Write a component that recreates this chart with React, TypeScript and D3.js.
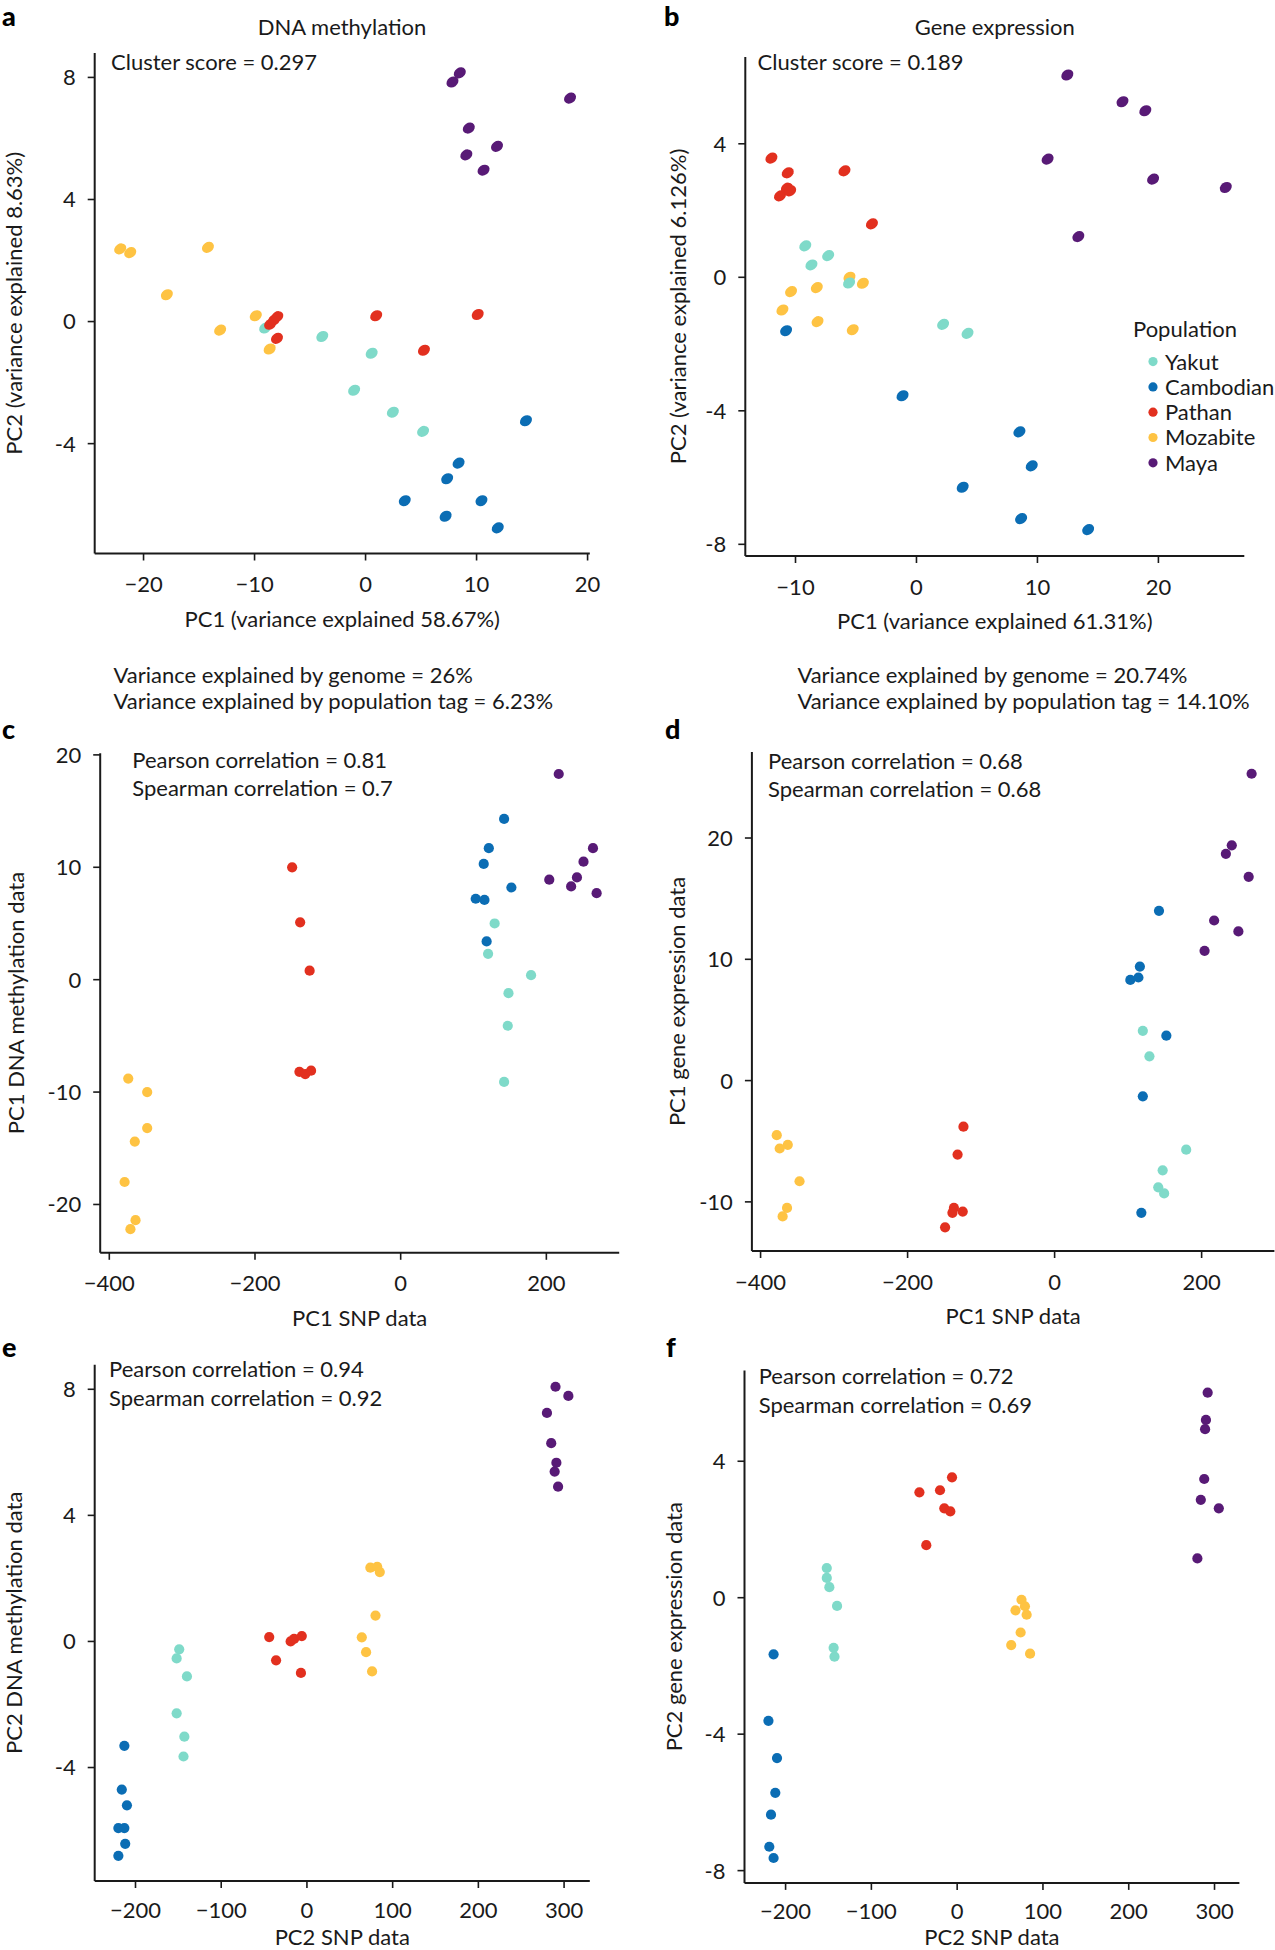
import React from "react";
import * as d3 from "d3";

const POPULATIONS = ["Yakut", "Cambodian", "Pathan", "Mozabite", "Maya"];
const POP_COLORS = ["#7fdac9", "#0b6db4", "#e2301f", "#fec343", "#581a76"];

type Pt = [string, number, number];

// Panel a: DNA methylation PCA
const pointsA: Pt[] = [
  ["Maya", 7.83, 7.85], ["Maya", 8.49, 8.15], ["Maya", 18.42, 7.32], ["Maya", 9.3, 6.34],
  ["Maya", 11.84, 5.74], ["Maya", 9.08, 5.46], ["Maya", 10.63, 4.96],
  ["Mozabite", -22.1, 2.38], ["Mozabite", -21.2, 2.26], ["Mozabite", -14.2, 2.43], ["Mozabite", -17.9, 0.88],
  ["Mozabite", -13.1, -0.28], ["Mozabite", -9.89, 0.19], ["Mozabite", -8.64, -0.9],
  ["Yakut", -9.04, -0.21], ["Yakut", -3.9, -0.49], ["Yakut", 0.55, -1.04], ["Yakut", -1.03, -2.25],
  ["Yakut", 2.46, -2.97], ["Yakut", 5.18, -3.6],
  ["Pathan", -8.6, -0.09], ["Pathan", -8.25, 0.05], ["Pathan", -7.95, 0.16], ["Pathan", -7.98, -0.55],
  ["Pathan", 0.96, 0.19], ["Pathan", 10.1, 0.23], ["Pathan", 5.26, -0.94],
  ["Cambodian", 14.45, -3.25], ["Cambodian", 8.38, -4.64], ["Cambodian", 7.35, -5.15], ["Cambodian", 3.53, -5.87],
  ["Cambodian", 10.44, -5.87], ["Cambodian", 7.21, -6.38], ["Cambodian", 11.91, -6.76],
];

// Panel b: Gene expression PCA
const pointsB: Pt[] = [
  ["Maya", 12.47, 6.06], ["Maya", 17.03, 5.26], ["Maya", 18.92, 4.99], ["Maya", 10.84, 3.54],
  ["Maya", 19.56, 2.94], ["Maya", 25.57, 2.69], ["Maya", 13.38, 1.22],
  ["Pathan", -11.99, 3.57], ["Pathan", -10.64, 3.13], ["Pathan", -5.95, 3.19], ["Pathan", -11.28, 2.44],
  ["Pathan", -10.71, 2.67], ["Pathan", -10.44, 2.59], ["Pathan", -3.68, 1.6],
  ["Yakut", -9.19, 0.94], ["Yakut", -7.3, 0.65], ["Yakut", -8.68, 0.37],
  ["Mozabite", -5.54, 0.0], ["Mozabite", -4.43, -0.18], ["Mozabite", -10.37, -0.43], ["Mozabite", -8.24, -0.31],
  ["Mozabite", -11.08, -0.98], ["Mozabite", -8.18, -1.33], ["Mozabite", -5.27, -1.57],
  ["Yakut", -5.57, -0.17], ["Yakut", 2.2, -1.41], ["Yakut", 4.22, -1.68],
  ["Cambodian", -10.78, -1.6], ["Cambodian", -1.15, -3.55], ["Cambodian", 8.51, -4.63], ["Cambodian", 9.53, -5.65],
  ["Cambodian", 3.82, -6.29], ["Cambodian", 8.65, -7.23], ["Cambodian", 14.19, -7.56],
];

// Panel c: PC1 SNP vs PC1 DNA methylation
const pointsC: Pt[] = [
  ["Maya", 217, 18.3], ["Maya", 264, 11.7], ["Maya", 251, 10.5], ["Maya", 242, 9.1],
  ["Maya", 204, 8.9], ["Maya", 234, 8.3], ["Maya", 269, 7.7],
  ["Cambodian", 142, 14.3], ["Cambodian", 121, 11.7], ["Cambodian", 114, 10.3], ["Cambodian", 152, 8.2],
  ["Cambodian", 103, 7.2], ["Cambodian", 115, 7.1], ["Cambodian", 118, 3.4],
  ["Yakut", 129, 5.0], ["Yakut", 120, 2.3], ["Yakut", 179, 0.4], ["Yakut", 148, -1.2],
  ["Yakut", 147, -4.1], ["Yakut", 142, -9.1],
  ["Pathan", -149, 10.0], ["Pathan", -138, 5.1], ["Pathan", -125, 0.8], ["Pathan", -139, -8.2],
  ["Pathan", -131, -8.4], ["Pathan", -123, -8.1],
  ["Mozabite", -374, -8.8], ["Mozabite", -348, -10.0], ["Mozabite", -348, -13.2], ["Mozabite", -365, -14.4],
  ["Mozabite", -379, -18.0], ["Mozabite", -364, -21.4], ["Mozabite", -371, -22.2],
];

// Panel d: PC1 SNP vs PC1 gene expression
const pointsD: Pt[] = [
  ["Maya", 268, 25.3], ["Maya", 241, 19.4], ["Maya", 233, 18.7], ["Maya", 264, 16.8],
  ["Maya", 217, 13.2], ["Maya", 250, 12.3], ["Maya", 204, 10.7],
  ["Cambodian", 142, 14.0], ["Cambodian", 116, 9.4], ["Cambodian", 103, 8.3], ["Cambodian", 114, 8.5],
  ["Cambodian", 152, 3.7], ["Cambodian", 120, -1.3], ["Cambodian", 118, -10.9],
  ["Yakut", 120, 4.1], ["Yakut", 129, 2.0], ["Yakut", 179, -5.7], ["Yakut", 147, -7.4],
  ["Yakut", 141, -8.8], ["Yakut", 149, -9.3],
  ["Pathan", -124, -3.8], ["Pathan", -132, -6.1], ["Pathan", -137, -10.5], ["Pathan", -139, -10.9],
  ["Pathan", -125, -10.8], ["Pathan", -149, -12.1],
  ["Mozabite", -378, -4.5], ["Mozabite", -363, -5.3], ["Mozabite", -374, -5.6], ["Mozabite", -347, -8.3],
  ["Mozabite", -364, -10.5], ["Mozabite", -370, -11.2],
];

// Panel e: PC2 SNP vs PC2 DNA methylation
const pointsE: Pt[] = [
  ["Maya", 290, 8.08], ["Maya", 305, 7.79], ["Maya", 280, 7.25], ["Maya", 285, 6.29],
  ["Maya", 291, 5.67], ["Maya", 289, 5.39], ["Maya", 293, 4.91],
  ["Mozabite", 74, 2.34], ["Mozabite", 82, 2.37], ["Mozabite", 85, 2.2], ["Mozabite", 80, 0.82],
  ["Mozabite", 64, 0.13], ["Mozabite", 69, -0.34], ["Mozabite", 76, -0.95],
  ["Pathan", -44, 0.14], ["Pathan", -19, 0.0], ["Pathan", -15, 0.08], ["Pathan", -6, 0.17],
  ["Pathan", -36, -0.6], ["Pathan", -7, -1.0],
  ["Yakut", -149, -0.25], ["Yakut", -152, -0.54], ["Yakut", -140, -1.11], ["Yakut", -152, -2.28],
  ["Yakut", -143, -3.02], ["Yakut", -144, -3.65],
  ["Cambodian", -213, -3.31], ["Cambodian", -216, -4.7], ["Cambodian", -210, -5.2], ["Cambodian", -220, -5.92],
  ["Cambodian", -213, -5.92], ["Cambodian", -212, -6.42], ["Cambodian", -220, -6.8],
];

// Panel f: PC2 SNP vs PC2 gene expression
const pointsF: Pt[] = [
  ["Maya", 292, 6.01], ["Maya", 290, 5.21], ["Maya", 289, 4.94], ["Maya", 288, 3.48],
  ["Maya", 284, 2.87], ["Maya", 305, 2.62], ["Maya", 280, 1.15],
  ["Pathan", -6, 3.53], ["Pathan", -44, 3.09], ["Pathan", -20, 3.15], ["Pathan", -15, 2.62],
  ["Pathan", -8, 2.53], ["Pathan", -36, 1.54],
  ["Yakut", -152, 0.87], ["Yakut", -152, 0.58], ["Yakut", -149, 0.31], ["Yakut", -140, -0.24],
  ["Yakut", -144, -1.47], ["Yakut", -143, -1.73],
  ["Mozabite", 75, -0.06], ["Mozabite", 79, -0.25], ["Mozabite", 68, -0.37], ["Mozabite", 81, -0.5],
  ["Mozabite", 74, -1.02], ["Mozabite", 63, -1.39], ["Mozabite", 85, -1.64],
  ["Cambodian", -214, -1.66], ["Cambodian", -220, -3.61], ["Cambodian", -210, -4.7], ["Cambodian", -212, -5.72],
  ["Cambodian", -217, -6.36], ["Cambodian", -219, -7.3], ["Cambodian", -214, -7.63],
];

const ticksA_x = [-20, -10, 0, 10, 20];
const ticksA_y = [-4, 0, 4, 8];
const ticksB_x = [-10, 0, 10, 20];
const ticksB_y = [-8, -4, 0, 4];
const ticksCD_x = [-400, -200, 0, 200];
const ticksC_y = [-20, -10, 0, 10, 20];
const ticksD_y = [-10, 0, 10, 20];
const ticksEF_x = [-200, -100, 0, 100, 200, 300];
const ticksE_y = [-4, 0, 4, 8];
const ticksF_y = [-8, -4, 0, 4];

const FONT = "Lato, 'Open Sans', sans-serif";
const FS = 22;
const INK = "#1a1a1a";

const color = d3.scaleOrdinal<string, string>().domain(POPULATIONS).range(POP_COLORS);

const fmtX = (v: number) => (v < 0 ? "\u2212" + Math.abs(v) : String(v));
const fmtY = (v: number) => (v < 0 ? "-" + Math.abs(v) : String(v));

type PanelProps = {
  xDomain: [number, number];
  xRange: [number, number];
  yDomain: [number, number];
  yRange: [number, number];
  xTicks: number[];
  yTicks: number[];
  points: Pt[];
  xLabel: string;
  yLabel: string;
  yLabelX: number;
  xLabelOffset?: number;
  xTickOffset?: number;
  ellipse?: boolean;
  r?: number;
};

function Panel(p: PanelProps) {
  const x = d3.scaleLinear().domain(p.xDomain).range(p.xRange);
  const y = d3.scaleLinear().domain(p.yDomain).range(p.yRange);
  const x0 = p.xRange[0];
  const x1 = p.xRange[1];
  const yb = p.yRange[0];
  const yt = p.yRange[1];
  const tick = 7;
  const r = p.r ?? 5.2;
  return (
    <g>
      <line x1={x0} x2={x1} y1={yb} y2={yb} stroke={INK} strokeWidth={2} />
      <line x1={x0} x2={x0} y1={yb} y2={yt} stroke={INK} strokeWidth={2} />
      {p.xTicks.map((t) => (
        <g key={"x" + t}>
          <line x1={x(t)} x2={x(t)} y1={yb} y2={yb + tick} stroke={INK} strokeWidth={1.6} />
          <text x={x(t)} y={yb + (p.xTickOffset ?? 38.5)} textAnchor="middle" fontSize={FS} fill={INK}>
            {fmtX(t)}
          </text>
        </g>
      ))}
      {p.yTicks.map((t) => (
        <g key={"y" + t}>
          <line x1={x0} x2={x0 - tick} y1={y(t)} y2={y(t)} stroke={INK} strokeWidth={1.6} />
          <text x={x0 - 19} y={y(t)} dy="0.36em" textAnchor="end" fontSize={FS} fill={INK}>
            {fmtY(t)}
          </text>
        </g>
      ))}
      <text x={(x0 + x1) / 2} y={yb + (p.xLabelOffset ?? 73)} textAnchor="middle" fontSize={FS} fill={INK}>
        {p.xLabel}
      </text>
      <text
        transform={`translate(${p.yLabelX},${(yb + yt) / 2}) rotate(-90)`}
        textAnchor="middle"
        fontSize={FS}
        fill={INK}
      >
        {p.yLabel}
      </text>
      {p.points.map((d, i) =>
        p.ellipse ? (
          <ellipse
            key={i}
            cx={x(d[1])}
            cy={y(d[2])}
            rx={6.4}
            ry={5.1}
            transform={`rotate(-35 ${x(d[1])} ${y(d[2])})`}
            fill={color(d[0])}
          />
        ) : (
          <circle key={i} cx={x(d[1])} cy={y(d[2])} r={r} fill={color(d[0])} />
        )
      )}
    </g>
  );
}

function Letter({ x, y, t }: { x: number; y: number; t: string }) {
  return (
    <text x={x} y={y} fontSize={27} fontWeight={900} fill="#000">
      {t}
    </text>
  );
}

export default function App() {
  return (
    <svg
      width={1275}
      height={1950}
      style={{ position: "absolute", left: 0, top: 0, background: "#fff" }}
      fontFamily={FONT}
    >
      <rect x={0} y={0} width={1275} height={1950} fill="#fff" />

      {/* a */}
      <Letter x={2} y={26} t="a" />
      <text x={342} y={34.5} textAnchor="middle" fontSize={FS} fill={INK}>DNA methylation</text>
      <text x={111} y={70} fontSize={FS} fill={INK}>Cluster score = 0.297</text>
      <Panel
        xDomain={[-24.4, 20.2]} xRange={[94.7, 589.8]}
        yDomain={[-7.6, 8.8]} yRange={[553.5, 53]}
        xTicks={ticksA_x} yTicks={ticksA_y} points={pointsA}
        xLabel="PC1 (variance explained 58.67%)" yLabel="PC2 (variance explained 8.63%)"
        yLabelX={22} ellipse
      />

      {/* b */}
      <Letter x={664} y={26} t="b" />
      <text x={994.8} y={34.5} textAnchor="middle" fontSize={FS} fill={INK}>Gene expression</text>
      <text x={757.6} y={70} fontSize={FS} fill={INK}>Cluster score = 0.189</text>
      <Panel
        xDomain={[-14.15, 27.1]} xRange={[745.3, 1244.3]}
        yDomain={[-8.35, 6.6]} yRange={[556, 57]}
        xTicks={ticksB_x} yTicks={ticksB_y} points={pointsB}
        xLabel="PC1 (variance explained 61.31%)" yLabel="PC2 (variance explained 6.126%)"
        yLabelX={685.5} ellipse
      />
      <text x={1133} y={336.7} fontSize={FS} fill={INK}>Population</text>
      {POPULATIONS.map((pop, i) => (
        <g key={pop}>
          <circle cx={1153} cy={361.6 + i * 25.3} r={4.6} fill={color(pop)} />
          <text x={1165} y={361.6 + i * 25.3} dy="0.36em" fontSize={FS} fill={INK}>{pop}</text>
        </g>
      ))}

      {/* c */}
      <text x={113.6} y={683.4} fontSize={FS} fill={INK}>Variance explained by genome = 26%</text>
      <text x={113.6} y={709.4} fontSize={FS} fill={INK}>Variance explained by population tag = 6.23%</text>
      <Letter x={2} y={739} t="c" />
      <text x={132.3} y={768} fontSize={FS} fill={INK}>Pearson correlation = 0.81</text>
      <text x={132.3} y={796} fontSize={FS} fill={INK}>Spearman correlation = 0.7</text>
      <Panel
        xDomain={[-412.5, 300]} xRange={[100.2, 619.2]}
        yDomain={[-24.3, 20.15]} yRange={[1252.8, 753.2]}
        xTicks={ticksCD_x} yTicks={ticksC_y} points={pointsC}
        xLabel="PC1 SNP data" yLabel="PC1 DNA methylation data"
        yLabelX={23.5} r={5.1}
      />

      {/* d */}
      <text x={797.4} y={683.4} fontSize={FS} fill={INK}>Variance explained by genome = 20.74%</text>
      <text x={797.4} y={709.4} fontSize={FS} fill={INK}>Variance explained by population tag = 14.10%</text>
      <Letter x={665} y={739} t="d" />
      <text x={768} y={769.3} fontSize={FS} fill={INK}>Pearson correlation = 0.68</text>
      <text x={768} y={797.4} fontSize={FS} fill={INK}>Spearman correlation = 0.68</text>
      <Panel
        xDomain={[-411.8, 299]} xRange={[751.9, 1274.4]}
        yDomain={[-14.05, 27.1]} yRange={[1251, 751.9]}
        xTicks={ticksCD_x} yTicks={ticksD_y} points={pointsD}
        xLabel="PC1 SNP data" yLabel="PC1 gene expression data"
        yLabelX={684.5} r={5.1}
      />

      {/* e */}
      <Letter x={2} y={1356.5} t="e" />
      <text x={109} y={1377} fontSize={FS} fill={INK}>Pearson correlation = 0.94</text>
      <text x={109} y={1405.5} fontSize={FS} fill={INK}>Spearman correlation = 0.92</text>
      <Panel
        xDomain={[-247.6, 330]} xRange={[94.7, 589.8]}
        yDomain={[-7.6, 8.78]} yRange={[1881, 1364.7]}
        xTicks={ticksEF_x} yTicks={ticksE_y} points={pointsE}
        xLabel="PC2 SNP data" yLabel="PC2 DNA methylation data"
        yLabelX={22.4} r={5.1} xLabelOffset={63.5} xTickOffset={37}
      />

      {/* f */}
      <Letter x={666} y={1356.5} t="f" />
      <text x={758.7} y={1384} fontSize={FS} fill={INK}>Pearson correlation = 0.72</text>
      <text x={758.7} y={1413} fontSize={FS} fill={INK}>Spearman correlation = 0.69</text>
      <Panel
        xDomain={[-247.9, 329]} xRange={[744.5, 1239.4]}
        yDomain={[-8.36, 6.66]} yRange={[1882.9, 1370.5]}
        xTicks={ticksEF_x} yTicks={ticksF_y} points={pointsF}
        xLabel="PC2 SNP data" yLabel="PC2 gene expression data"
        yLabelX={681.7} r={5.1} xLabelOffset={62} xTickOffset={36.5}
      />
    </svg>
  );
}
